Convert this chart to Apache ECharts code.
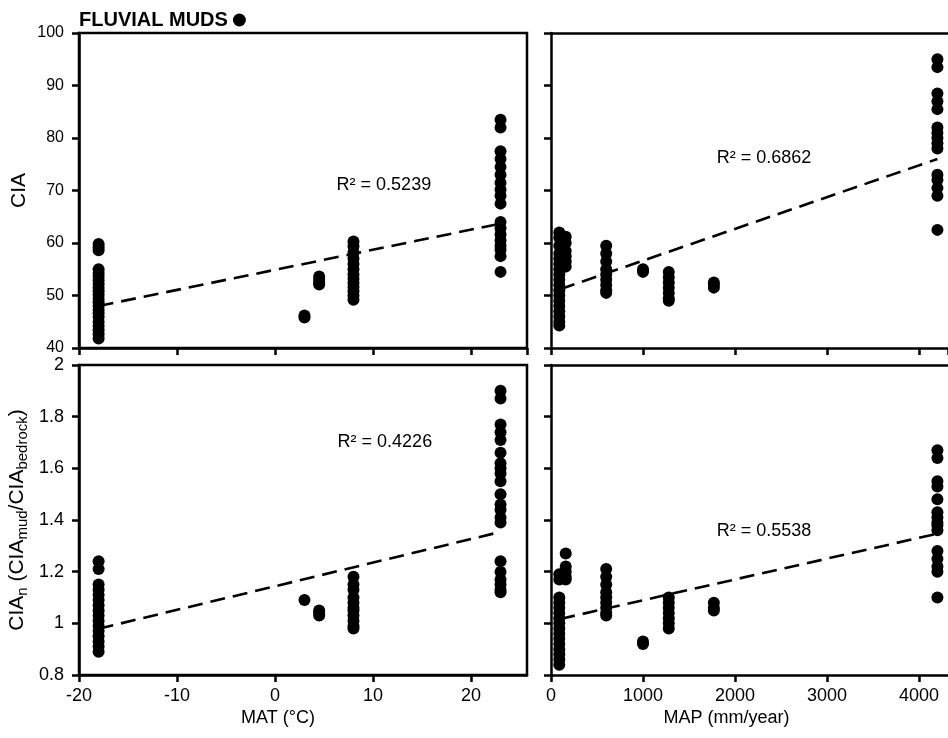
<!DOCTYPE html>
<html>
<head>
<meta charset="utf-8">
<script src="https://cdn.jsdelivr.net/npm/echarts@6/dist/echarts.min.js"></script>
<style>
html,body{margin:0;padding:0;background:#fff;}
#chart{width:948px;height:738px;}
</style>
</head>
<body>
<div id="chart"></div>
<script>
// ---------- DATA ----------
const MAT_SITES = [-18, 3, 4.5, 8, 23];            // °C
const MAP_SITES = [90, 160, 600, 1000, 1280, 1770, 4200]; // mm/year

const CIA_BY_MAT = [
  [59.8, 59.2, 58.6, 55.0, 54.3, 53.6, 52.9, 52.2, 51.5, 50.8, 50.1, 49.4, 48.7, 48.0, 47.3, 46.6, 45.9, 45.0, 44.2, 43.4, 42.6, 41.8],
  [46.2, 45.8],
  [53.6, 53.0, 52.5, 52.1],
  [60.3, 59.4, 58.2, 57.0, 56.0, 55.0, 54.0, 53.2, 52.4, 51.6, 50.8, 50.0, 49.2],
  [83.5, 82.0, 77.5, 76.0, 74.5, 73.0, 71.5, 70.2, 69.0, 67.5, 64.0, 62.8, 61.6, 60.5, 59.5, 58.7, 57.5, 54.5]
];
const CIA_BY_MAP = [
  [62.0, 61.0, 59.5, 58.0, 57.0, 56.0, 55.0, 54.0, 53.0, 52.0, 51.0, 50.0, 49.0, 48.0, 47.0, 46.0, 45.0, 44.3],
  [61.2, 60.0, 58.5, 57.5, 56.5, 55.5],
  [59.5, 58.0, 56.5, 55.0, 54.0, 53.0, 52.0, 51.0, 50.5],
  [55.0, 54.5],
  [54.5, 53.5, 52.5, 51.5, 50.5, 49.5, 49.0],
  [52.5, 52.0, 51.5],
  [95.0, 93.5, 88.5, 87.0, 85.5, 82.0, 81.0, 80.0, 79.0, 78.0, 73.0, 72.0, 70.5, 69.0, 62.5]
];
const CIAN_BY_MAT = [
  [1.24, 1.21, 1.15, 1.13, 1.11, 1.09, 1.07, 1.05, 1.03, 1.01, 0.99, 0.97, 0.95, 0.93, 0.91, 0.89],
  [1.09],
  [1.05, 1.04, 1.03],
  [1.18, 1.15, 1.13, 1.10, 1.08, 1.06, 1.05, 1.03, 1.01, 0.99, 0.98],
  [1.90, 1.87, 1.77, 1.74, 1.71, 1.66, 1.62, 1.60, 1.58, 1.55, 1.50, 1.46, 1.44, 1.41, 1.39, 1.24, 1.20, 1.17, 1.15, 1.13, 1.12]
];
const CIAN_BY_MAP = [
  [1.19, 1.17, 1.10, 1.08, 1.06, 1.04, 1.02, 1.00, 0.98, 0.96, 0.94, 0.92, 0.90, 0.88, 0.86, 0.84],
  [1.27, 1.22, 1.20, 1.18, 1.17],
  [1.21, 1.18, 1.15, 1.12, 1.10, 1.08, 1.06, 1.04, 1.03],
  [0.93, 0.92],
  [1.10, 1.08, 1.06, 1.04, 1.02, 1.00, 0.98],
  [1.08, 1.06, 1.05],
  [1.67, 1.64, 1.55, 1.53, 1.48, 1.43, 1.41, 1.39, 1.38, 1.36, 1.28, 1.25, 1.22, 1.20, 1.10]
];

const TREND_CIA_MAT  = [[-18, 48.0], [23, 63.7]];
const TREND_CIA_MAP  = [[100, 51.2], [4200, 76.0]];
const TREND_CIAN_MAT = [[-18, 0.979], [23, 1.354]];
const TREND_CIAN_MAP = [[100, 1.017], [4200, 1.347]];

const R2_LABELS = ['R² = 0.5239', 'R² = 0.6862', 'R² = 0.4226', 'R² = 0.5538'];
const SERIES_NAME = 'FLUVIAL MUDS';
const X_NAMES = ['MAT (°C)', 'MAP (mm/year)'];

// ---------- BUILD ----------
function expand(sites, groups) {
  const out = [];
  sites.forEach((x, i) => groups[i].forEach(v => out.push([x, v])));
  return out;
}
const FONT = '"Liberation Sans", Arial, sans-serif';
const R2_ANCHORS = [[11.1, 71.0], [2315, 76.1], [11.2, 1.70], [2315, 1.358]];

const chart = echarts.init(document.getElementById('chart'), null, {renderer: 'canvas'});

const axisLine = {show: true, onZero: false, lineStyle: {color: '#000', width: 2.5}};
const axisTick = {show: true, inside: false, length: 7, lineStyle: {color: '#000', width: 2.5}};

const grids = [
  {left: 79, top: 33, width: 448, height: 315, show: true},
  {left: 551, top: 33, width: 397, height: 315, show: false},
  {left: 79, top: 365, width: 448, height: 310, show: true},
  {left: 551, top: 365, width: 397, height: 310, show: false}
].map(g => Object.assign(g, {borderColor: '#000', borderWidth: 2.5, backgroundColor: 'transparent', containLabel: false}));

function plainNum(v) { return String(Math.round(v * 1000) / 1000); }

function xAxis(gi, isMat, showLabels, name) {
  return {
    type: 'value', gridIndex: gi,
    min: isMat ? -20 : 0, max: isMat ? 25.7 : 4315, interval: isMat ? 10 : 1000,
    axisLine, axisTick, splitLine: {show: false},
    axisLabel: {show: showLabels, showMaxLabel: false, margin: 12, color: '#000', fontSize: 18, fontFamily: FONT, formatter: plainNum},
    name: name || '', nameLocation: 'middle', nameGap: 34,
    nameTextStyle: {color: '#000', fontSize: 18, fontFamily: FONT, padding: isMat ? [0, 50, 0, 0] : [0, 46, 0, 0]}
  };
}
// top frame line for the right-hand panels (open on the right like the reference crop)
function topFrame(gi) {
  return {
    type: 'value', gridIndex: gi, position: 'top', min: 0, max: 4315,
    axisLine, axisTick: {show: false}, axisLabel: {show: false}, splitLine: {show: false}
  };
}
function yAxis(gi, isCia, showLabels, name) {
  return {
    type: 'value', gridIndex: gi,
    min: isCia ? 40 : 0.8, max: isCia ? 100 : 2, interval: isCia ? 10 : 0.2,
    axisLine, axisTick, splitLine: {show: false},
    axisLabel: {show: showLabels, margin: 15, color: '#000', fontSize: isCia ? 16 : 18, fontFamily: FONT, formatter: plainNum},
    name: name || '', nameLocation: 'middle', nameRotate: 90, nameGap: 49,
    nameTextStyle: {
      color: '#000', fontSize: 21, fontFamily: FONT,
      rich: {
        m: {fontSize: 21, fontFamily: FONT, color: '#000'},
        s: {fontSize: 15, fontFamily: FONT, color: '#000', padding: [11, 0, 0, 0]}
      }
    }
  };
}

const scatterDefaults = {
  type: 'scatter', name: SERIES_NAME, symbol: 'circle', symbolSize: 12,
  itemStyle: {color: '#000', opacity: 1}, z: 3, silent: true
};
function trend(gi, data) {
  return {
    type: 'line', xAxisIndex: gi, yAxisIndex: gi, data, showSymbol: false, symbol: 'none',
    lineStyle: {color: '#000', width: 2.6, type: [15, 8], opacity: 1}, z: 4, silent: true
  };
}
function r2(gi, i) {
  return {
    type: 'scatter', xAxisIndex: gi, yAxisIndex: gi, symbolSize: 0,
    data: [R2_ANCHORS[i]], silent: true, itemStyle: {opacity: 1},
    label: {show: true, position: 'inside', formatter: R2_LABELS[i], color: '#000', opacity: 1, fontSize: 18, fontFamily: FONT}
  };
}

const option = {
  animation: false,
  backgroundColor: '#fff',
  legend: {
    data: [SERIES_NAME], left: 74, top: 5, align: 'right', icon: 'circle',
    itemWidth: 13, itemHeight: 13, itemGap: 6,
    itemStyle: {color: '#000', opacity: 1},
    textStyle: {color: '#000', fontSize: 20, fontWeight: 'bold', fontFamily: FONT},
    selectedMode: false
  },
  grid: grids,
  xAxis: [
    xAxis(0, true, false), xAxis(1, false, false),
    xAxis(2, true, true, X_NAMES[0]), xAxis(3, false, true, X_NAMES[1]),
    topFrame(1), topFrame(3)
  ],
  yAxis: [
    yAxis(0, true, true, 'CIA'), yAxis(1, true, false),
    yAxis(2, false, true, '{m|CIA}{s|n}{m| (CIA}{s|mud}{m|/CIA}{s|bedrock}{m|)}'), yAxis(3, false, false)
  ],
  series: [
    Object.assign({}, scatterDefaults, {xAxisIndex: 0, yAxisIndex: 0, data: expand(MAT_SITES, CIA_BY_MAT)}),
    Object.assign({}, scatterDefaults, {xAxisIndex: 1, yAxisIndex: 1, data: expand(MAP_SITES, CIA_BY_MAP)}),
    Object.assign({}, scatterDefaults, {xAxisIndex: 2, yAxisIndex: 2, data: expand(MAT_SITES, CIAN_BY_MAT)}),
    Object.assign({}, scatterDefaults, {xAxisIndex: 3, yAxisIndex: 3, data: expand(MAP_SITES, CIAN_BY_MAP)}),
    trend(0, TREND_CIA_MAT), trend(1, TREND_CIA_MAP), trend(2, TREND_CIAN_MAT), trend(3, TREND_CIAN_MAP),
    r2(0, 0), r2(1, 1), r2(2, 2), r2(3, 3)
  ]
};
chart.setOption(option);
</script>
</body>
</html>
